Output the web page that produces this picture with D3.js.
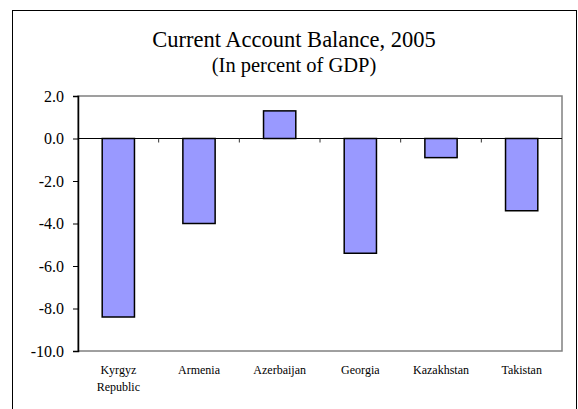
<!DOCTYPE html>
<html>
<head>
<meta charset="utf-8">
<script src="https://cdn.jsdelivr.net/npm/d3@7"></script>
<style>
  body { margin: 0; background: #fff; }
</style>
</head>
<body>
<svg width="578" height="409"></svg>
<script>
const countries = ['Kyrgyz Republic', 'Armenia', 'Azerbaijan', 'Georgia', 'Kazakhstan', 'Takistan'];
const balance = [-8.4, -4.0, 1.3, -5.4, -0.9, -3.4];
const yTicks = [2, 0, -2, -4, -6, -8, -10];
const titleText = 'Current Account Balance, 2005';
const subtitleText = '(In percent of GDP)';

const W = 578, H = 409;
const margin = {top: 96, right: 16, bottom: 58, left: 78};
const serif = "'Liberation Serif', 'Times New Roman', serif";

const svg = d3.select("svg").attr("font-family", serif);

// outer chart frame (bottom edge runs off the picture)
svg.append("rect")
  .attr("x", 12.5).attr("y", 10.5)
  .attr("width", 564).attr("height", 410)
  .attr("fill", "none").attr("stroke", "#000").attr("stroke-width", 1);

svg.append("text")
  .attr("x", 294).attr("y", 47)
  .attr("text-anchor", "middle")
  .attr("font-family", serif)
  .attr("font-size", 22.5)
  .text(titleText);

svg.append("text")
  .attr("x", 294).attr("y", 72)
  .attr("text-anchor", "middle")
  .attr("font-family", serif)
  .attr("font-size", 20.5)
  .text(subtitleText);

const xScale = d3.scaleBand()
  .domain(countries)
  .range([margin.left, W - margin.right])
  .paddingInner(0.6)
  .paddingOuter(0.3);

const yScale = d3.scaleLinear()
  .domain([-10, 2])
  .range([H - margin.bottom, margin.top]);

// plot area border
svg.append("rect")
  .attr("x", margin.left).attr("y", yScale(2))
  .attr("width", W - margin.right - margin.left)
  .attr("height", yScale(-10) - yScale(2))
  .attr("fill", "none").attr("stroke", "#808080").attr("stroke-width", 1.5);

// bars
svg.append("g")
  .selectAll("rect")
  .data(balance)
  .join("rect")
  .attr("x", (d, i) => xScale(countries[i]))
  .attr("y", d => yScale(Math.max(0, d)))
  .attr("width", xScale.bandwidth())
  .attr("height", d => Math.abs(yScale(d) - yScale(0)))
  .attr("fill", "#9999ff")
  .attr("stroke", "#000")
  .attr("stroke-width", 1.5);

// zero line with category separators
const step = xScale.step();
svg.append("line")
  .attr("x1", margin.left).attr("x2", W - margin.right)
  .attr("y1", yScale(0)).attr("y2", yScale(0))
  .attr("stroke", "#000").attr("stroke-width", 1);

svg.append("g")
  .selectAll("line")
  .data(countries.slice(1))
  .join("line")
  .attr("x1", d => xScale(d) - step * 0.3)
  .attr("x2", d => xScale(d) - step * 0.3)
  .attr("y1", yScale(0)).attr("y2", yScale(0) + 4)
  .attr("stroke", "#333");

// y axis
const yAxis = svg.append("g")
  .attr("transform", `translate(${margin.left},0)`)
  .call(d3.axisLeft(yScale).tickValues(yTicks).tickFormat(d3.format(".1f")).tickSize(5).tickPadding(9));
yAxis.attr("font-family", serif).attr("font-size", 16);
yAxis.select(".domain").attr("stroke", "#000").attr("stroke-width", 1.5);
yAxis.selectAll(".tick line").attr("stroke", "#000");
yAxis.selectAll(".tick text")
  .attr("fill", "#000")
  .text(d => d3.format(".1f")(d).replace("−", "-"));

// category labels
const labels = svg.append("g")
  .attr("font-family", serif)
  .attr("font-size", 12)
  .selectAll("text")
  .data(countries)
  .join("text")
  .attr("text-anchor", "middle")
  .attr("x", d => xScale(d) + xScale.bandwidth() / 2)
  .attr("y", 374);

labels.each(function(d) {
  const words = d.split(" ");
  d3.select(this).selectAll("tspan")
    .data(words)
    .join("tspan")
    .attr("x", xScale(d) + xScale.bandwidth() / 2)
    .attr("dy", (w, i) => i === 0 ? 0 : 16.5)
    .text(w => w);
});
</script>
</body>
</html>
